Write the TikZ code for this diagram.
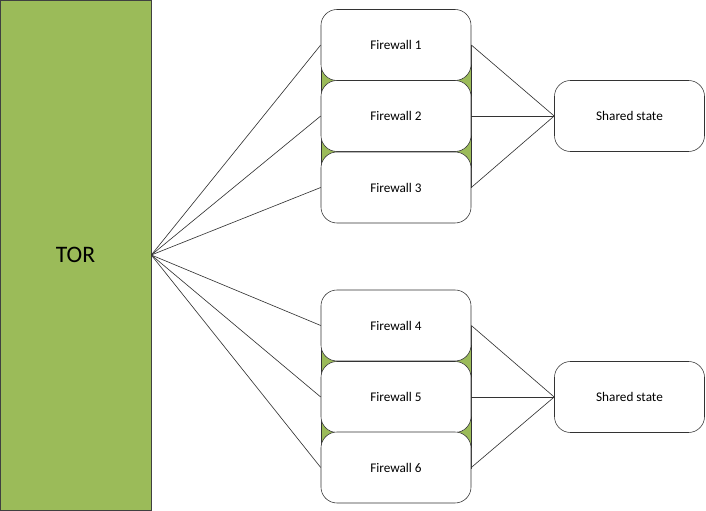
\documentclass[tikz,border=0pt]{standalone}
\usepackage{fontspec}
\setmainfont{Carlito}
\definecolor{torgreen}{RGB}{155,187,89}
\tikzset{
  torbox/.style={draw=black!75, fill=torgreen, minimum width=3.775cm, minimum height=12.75cm, inner sep=0pt, font=\fontsize{16.8}{18}\selectfont},
  fwbox/.style={draw=black!80, fill=white, rounded corners=0.4cm, minimum width=3.75cm, minimum height=1.775cm, inner sep=0pt, font=\fontsize{9.4}{11}\selectfont},
  link/.style={draw=black!80, line width=0.45pt}
}
\begin{document}
\begin{tikzpicture}[x=0.025cm, y=-0.025cm]
        \useasboundingbox (0,0) rectangle (706,511);
        \node[torbox] (T) at (75.5,255) {TOR};
        \fill[torgreen, draw=black!80] (321,45) rectangle (471,187);
        \fill[torgreen, draw=black!80] (321,326) rectangle (471,468);
        \node[fwbox] (F1) at (396,45) {Firewall 1};
        \node[fwbox] (F2) at (396,116) {Firewall 2};
        \node[fwbox] (F3) at (396,187.5) {Firewall 3};
        \node[fwbox] (F4) at (396,325.5) {Firewall 4};
        \node[fwbox] (F5) at (396,397) {Firewall 5};
        \node[fwbox] (F6) at (396,467.5) {Firewall 6};
        \node[fwbox] (S1) at (629.5,116) {Shared state};
        \node[fwbox] (S2) at (629.5,397) {Shared state};
        \path[link]
        (T.east) edge (F1.west)
        (T.east) edge (F2.west)
        (T.east) edge (F3.west)
        (T.east) edge (F4.west)
        (T.east) edge (F5.west)
        (T.east) edge (F6.west)
        (F1.east) edge (S1.west)
        (F2.east) edge (S1.west)
        (F3.east) edge (S1.west)
        (F4.east) edge (S2.west)
        (F5.east) edge (S2.west)
        (F6.east) edge (S2.west);
    \end{tikzpicture}
\end{document}
